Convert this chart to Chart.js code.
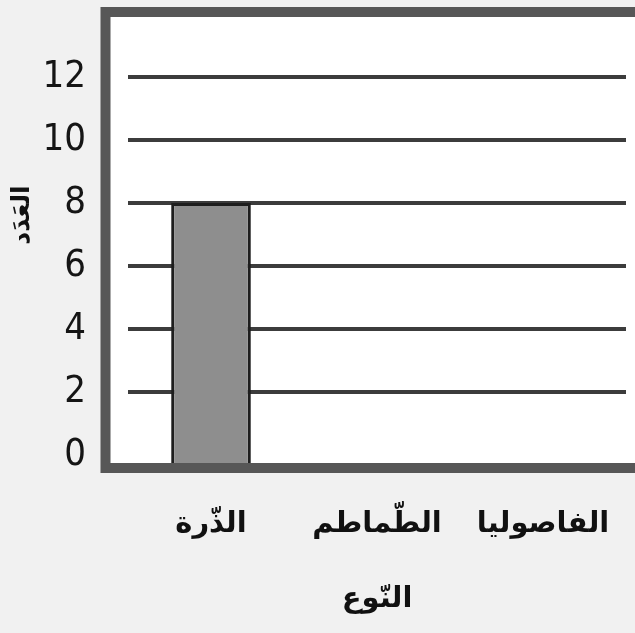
<!DOCTYPE html>
<html lang="ar">
<head>
<meta charset="utf-8">
<script src="https://cdn.jsdelivr.net/npm/chart.js@4.4.0/dist/chart.umd.min.js"></script>
<style>
html, body { margin: 0; padding: 0; background: #f1f1f1; }
#wrap { width: 635px; height: 633px; position: relative; }
</style>
</head>
<body>
<div id="wrap"><canvas id="chart"></canvas></div>
<script>
const categories = ['الذّرة', 'الطّماطم', 'الفاصوليا'];
const counts = [8, null, null];
const yTicks = [0, 2, 4, 6, 8, 10, 12];
const yTitle = 'العَدَد';
const xTitle = 'النّوع';

// white panel + thick grey frame around the plot, like the printed worksheet
const framePlugin = {
    id: 'frame',
    beforeDraw(chart) {
        const {ctx, chartArea} = chart;
        ctx.save();
        ctx.fillStyle = '#ffffff';
        ctx.fillRect(chartArea.left - 18, chartArea.top, 700, chartArea.bottom - chartArea.top);
        ctx.restore();
    },
    afterDraw(chart) {
        const {ctx, chartArea} = chart;
        const left = chartArea.left - 22.5;
        const top = chartArea.top - 5;
        const bottom = chartArea.bottom + 5;
        ctx.save();
        ctx.strokeStyle = '#575757';
        ctx.lineWidth = 10;
        ctx.strokeRect(left, top, 700, bottom - top);
        // y axis title sits a bit above the middle in the original
        ctx.translate(22, chartArea.top + 198);
        ctx.rotate(-Math.PI / 2);
        ctx.fillStyle = '#111';
        ctx.font = 'bold 25px "DejaVu Sans", sans-serif';
        ctx.textAlign = 'center';
        ctx.textBaseline = 'middle';
        ctx.fillText(yTitle, 0, 0);
        ctx.restore();
    }
};

const ctx = document.getElementById('chart').getContext('2d');
new Chart(ctx, {
    type: 'bar',
    data: {
        labels: categories,
        datasets: [{
            data: counts,
            base: -0.25,
            backgroundColor: '#8e8e8e',
            borderColor: '#1e1e1e',
            borderWidth: 3,
            barPercentage: 0.48,
            categoryPercentage: 1
        }]
    },
    options: {
        responsive: true,
        maintainAspectRatio: false,
        animation: false,
        layout: {padding: {top: 17, left: 0, right: 9, bottom: 0}},
        plugins: {
            legend: {display: false},
            tooltip: {enabled: false}
        },
        scales: {
            x: {
                grid: {display: false},
                border: {display: false},
                ticks: {
                    color: '#111',
                    padding: 36,
                    font: {family: '"DejaVu Sans", sans-serif', size: 29, weight: 'bold'}
                },
                title: {
                    display: true,
                    text: xTitle,
                    color: '#111',
                    padding: {top: 0, bottom: 16},
                    font: {family: '"DejaVu Sans", sans-serif', size: 29, weight: 'bold'}
                },
                afterFit(scale) {
                    scale.height = 170;
                    scale.paddingLeft = 0;
                    scale.paddingRight = 0;
                }
            },
            y: {
                min: -0.25,
                max: 13.9,
                afterBuildTicks(scale) { scale.ticks = yTicks.map(v => ({value: v})); },
                grid: {
                    drawTicks: false,
                    lineWidth: 4,
                    color: c => (c.tick && c.tick.value === 0) ? 'rgba(0,0,0,0)' : '#3c3c3c'
                },
                border: {display: false},
                ticks: {
                    color: '#151515',
                    padding: 42,
                    font: {family: '"Liberation Sans Narrow", "DejaVu Sans Condensed", sans-serif', size: 38}
                },
                afterFit(scale) {
                    scale.width = 128;
                    scale.paddingTop = 0;
                    scale.paddingBottom = 0;
                }
            }
        }
    },
    plugins: [framePlugin]
});
</script>
</body>
</html>
